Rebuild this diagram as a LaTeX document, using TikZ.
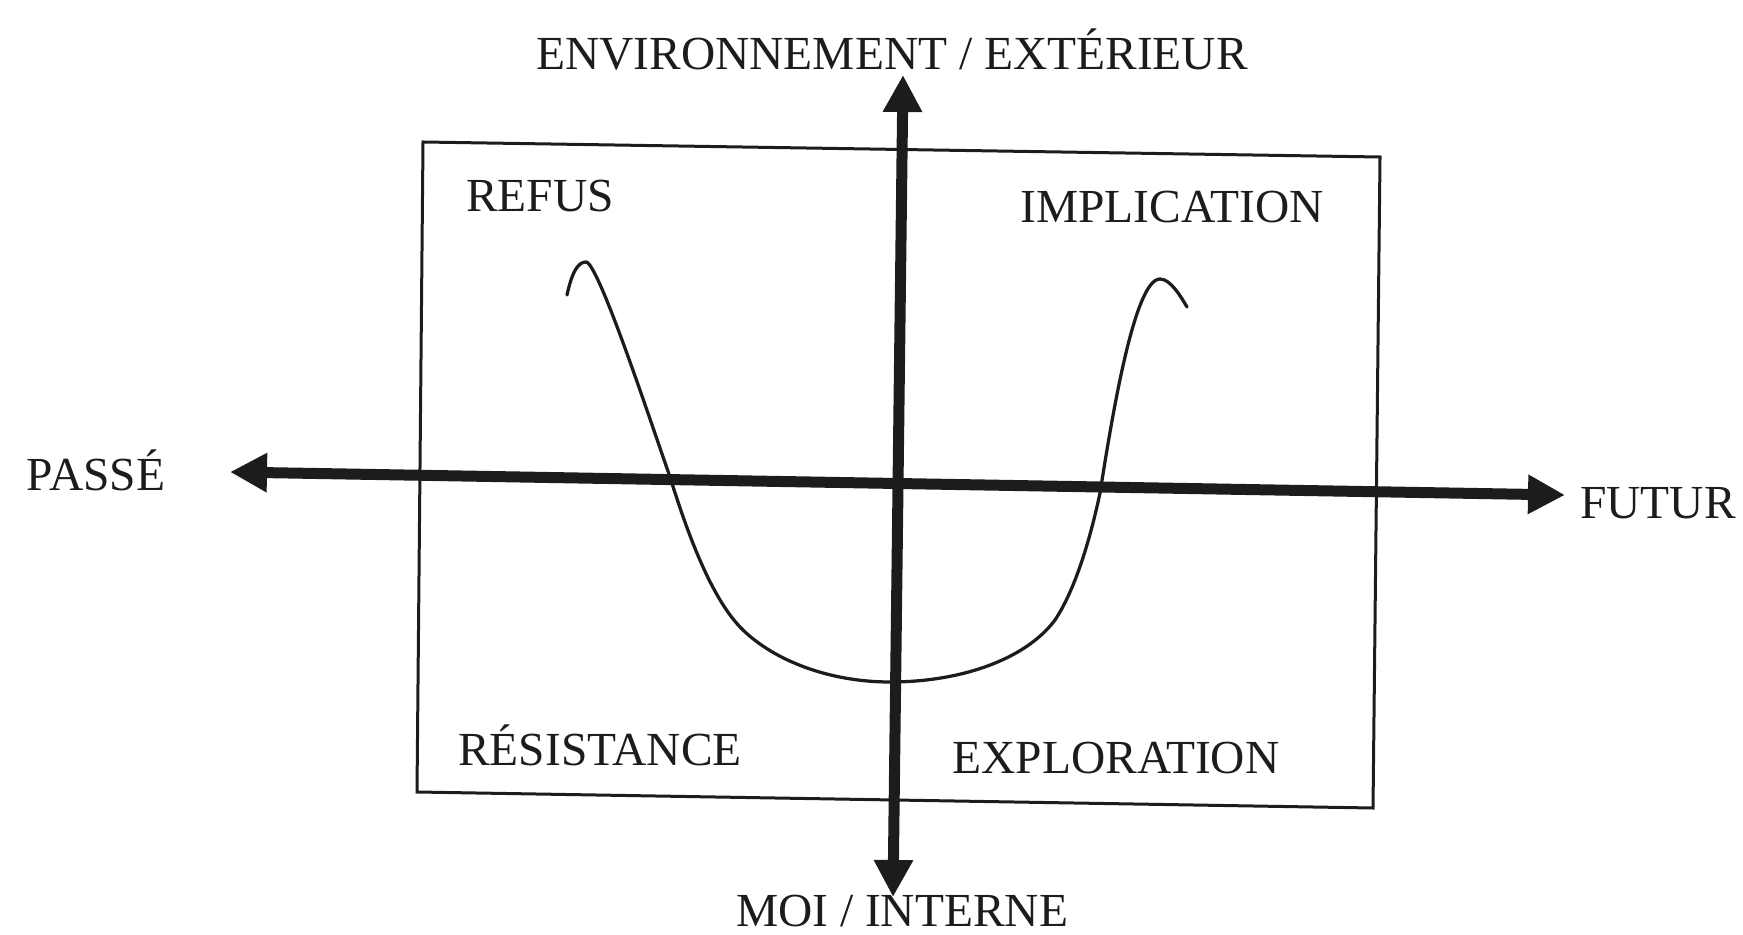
\documentclass[tikz,border=0pt]{standalone}
\usepackage{fontspec}
\setmainfont{Liberation Serif}
\usetikzlibrary{arrows.meta}
\definecolor{ink}{RGB}{28,28,28}
\tikzset{
	quadlabel/.style={font=\fontsize{27}{32}\selectfont, text=ink, inner sep=0pt, anchor=base},
	axis/.style={ink, line width=0.22cm, {Triangle[length=0.74cm,width=0.74cm]}-{Triangle[length=0.74cm,width=0.74cm]}},
	frame/.style={ink, line width=0.06cm, line join=miter},
	wave/.style={ink, line width=0.065cm, line cap=round}
}
\begin{document}
\begin{tikzpicture}[x=0.02cm,y=-0.02cm]
		\useasboundingbox (0,0) rectangle (1743,935);
		\draw[frame] (423,142) -- (1380,157) -- (1373,808) -- (417,792) -- cycle;
		\node[quadlabel] (env) at (892,70) {ENVIRONNEMENT / EXTÉRIEUR};
		\node[quadlabel] (moi) at (902,926) {MOI / INTERNE};
		\node[quadlabel] (passe) at (96,490) {PASSÉ};
		\node[quadlabel] (futur) at (1658,518) {FUTUR};
		\node[quadlabel] (refus) at (540,212) {REFUS};
		\node[quadlabel] (implication) at (1172,223) {IMPLICATION};
		\node[quadlabel] (resistance) at (600,765) {RÉSISTANCE};
		\node[quadlabel] (exploration) at (1116,773) {EXPLORATION};
		\coordinate (pastTip) at (230,472);
		\coordinate (futureTip) at (1565,495);
		\coordinate (outTip) at (903,75);
		\coordinate (inTip) at (893,897);
			\draw[wave] (567,295) .. controls (572,272) and (578,262) .. (586,262)
				.. controls (598,262) and (650,420) .. (670,477)
				.. controls (688,535) and (712,600) .. (743,630)
				.. controls (775,661) and (830,682) .. (890,682)
				.. controls (960,682) and (1025,660) .. (1055,620)
				.. controls (1075,590) and (1090,540) .. (1100,493)
				.. controls (1113,410) and (1135,279) .. (1160,279)
				.. controls (1170,279) and (1180,295) .. (1187,307);
			\draw[axis] (pastTip) -- (futureTip);
			\draw[axis] (inTip) -- (outTip);
	\end{tikzpicture}
\end{document}
